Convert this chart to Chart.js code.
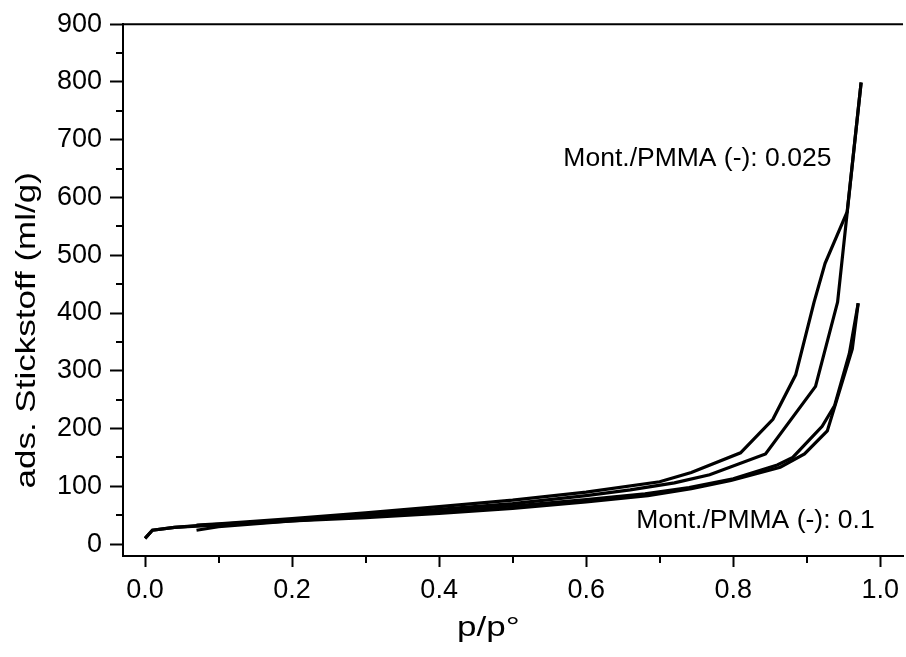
<!DOCTYPE html>
<html>
<head>
<meta charset="utf-8">
<script src="https://cdn.jsdelivr.net/npm/chart.js@4.4.1/dist/chart.umd.min.js"></script>
<style>
	html, body { margin: 0; padding: 0; background: #fff; }
	#chart { display: block; }
</style>
</head>
<body>
<canvas id="chart" width="906" height="657"></canvas>
<script>
// p/p° and adsorbed volume (ml/g)
var ads025P = [0.0, 0.01, 0.04, 0.08, 0.15, 0.2, 0.3, 0.4, 0.5, 0.6, 0.66, 0.72, 0.768, 0.844, 0.912, 0.942, 0.974];
var ads025V = [10, 24, 29, 33, 38, 42, 50, 60, 70, 84, 94, 106, 120, 156, 273, 419, 799];

var des025P = [0.974, 0.955, 0.925, 0.910, 0.885, 0.854, 0.810, 0.743, 0.7, 0.6, 0.5, 0.4, 0.3, 0.2, 0.1, 0.07];
var des025V = [799, 575, 486, 419, 293, 216, 158, 124, 108, 90, 76, 65, 54, 44, 35, 33];

var ads01P = [0.0, 0.01, 0.04, 0.07, 0.1, 0.2, 0.3, 0.4, 0.5, 0.6, 0.684, 0.743, 0.797, 0.864, 0.897, 0.928, 0.962, 0.970];
var ads01V = [10, 24, 29, 31, 33, 40, 46, 53, 62, 73, 84, 96, 110, 133, 156, 196, 338, 417];

var des01P = [0.970, 0.958, 0.938, 0.921, 0.881, 0.86, 0.8, 0.74, 0.68, 0.6, 0.5, 0.4, 0.3, 0.2, 0.1, 0.07];
var des01V = [417, 330, 240, 204, 150, 137, 113, 98, 87, 77, 66, 57, 49, 40, 30, 24];

var xTicks = [0.0, 0.2, 0.4, 0.6, 0.8, 1.0];
var yTicks = [0, 100, 200, 300, 400, 500, 600, 700, 800, 900];

var xTitle = 'p/p°';
var yTitle = 'ads. Stickstoff (ml/g)';

var labels = [
	{ text: 'Mont./PMMA (-): 0.025', p: 0.569, v: 668 },
	{ text: 'Mont./PMMA (-): 0.1', p: 0.668, v: 41 }
];

var FONT = '"Liberation Sans", Arial, sans-serif';

function toPoints(px, vy) {
	var pts = new Array();
	px.forEach(function(item, i) {
		pts.push({ x: item, y: vy[i] });
	});
	return pts;
}

function makeDataset(px, vy) {
	return {
		data: toPoints(px, vy),
		borderColor: '#000',
		borderWidth: 3.2,
		pointRadius: 0,
		showLine: true,
		fill: false,
		tension: 0,
		borderJoinStyle: 'miter'
	};
}

// minor ticks, top frame line, axis titles and the two text labels
var extrasPlugin = {
	id: 'extras',
	afterDraw: function(chart) {
		var ctx = chart.ctx;
		var xs = chart.scales.x;
		var ys = chart.scales.y;
		var area = chart.chartArea;
		ctx.save();
		ctx.strokeStyle = '#000';
		ctx.lineWidth = 2;
		ctx.beginPath();
		ctx.moveTo(area.left - 1, area.top);
		ctx.lineTo(area.right, area.top);
		ctx.stroke();

		ctx.beginPath();
		for (var v = 50; v < 900; v += 100) {
			var py = Math.round(ys.getPixelForValue(v));
			ctx.moveTo(area.left, py);
			ctx.lineTo(area.left - 7, py);
		}
		for (var p = 0.1; p < 1.05; p += 0.2) {
			var pxl = Math.round(xs.getPixelForValue(p));
			ctx.moveTo(pxl, area.bottom);
			ctx.lineTo(pxl, area.bottom + 7);
		}
		ctx.stroke();

		ctx.fillStyle = '#000';
		ctx.font = '26.5px ' + FONT;
		ctx.textBaseline = 'middle';
		ctx.textAlign = 'left';
		labels.forEach(function(item) {
			ctx.fillText(item.text, xs.getPixelForValue(item.p), ys.getPixelForValue(item.v));
		});

		// axis titles, a little wider than the plain font
		ctx.font = '28px ' + FONT;
		ctx.textAlign = 'center';
		ctx.save();
		ctx.translate(xs.getPixelForValue(0.467), 628);
		ctx.scale(1.25, 1);
		ctx.fillText(xTitle, 0, 0);
		ctx.restore();

		ctx.translate(27, ys.getPixelForValue(370));
		ctx.rotate(-Math.PI / 2);
		ctx.scale(1.25, 1);
		ctx.fillText(yTitle, 0, 0);
		ctx.restore();
	}
};

var config = {
	type: 'scatter',
	data: {
		datasets: [
			makeDataset(ads025P, ads025V),
			makeDataset(des025P, des025V),
			makeDataset(ads01P, ads01V),
			makeDataset(des01P, des01V)
		]
	},
	options: {
		responsive: false,
		animation: false,
		layout: { padding: { top: 20, right: 0, left: 0, bottom: 0 } },
		plugins: {
			legend: { display: false },
			tooltip: { enabled: false }
		},
		scales: {
			x: {
				type: 'linear',
				min: -0.03,
				max: 1.031,
				afterBuildTicks: function(scale) {
					scale.ticks = xTicks.map(function(v) { return { value: v }; });
				},
				afterFit: function(scale) { scale.height = 101; },
				ticks: {
					color: '#000',
					font: { family: FONT, size: 27 },
					padding: 7,
					maxRotation: 0,
					callback: function(v) { return v.toFixed(1); }
				},
				grid: { drawOnChartArea: false, tickLength: 11, tickWidth: 2, tickColor: '#000' },
				border: { color: '#000', width: 2 }
			},
			y: {
				type: 'linear',
				min: -20.6,
				max: 900,
				afterBuildTicks: function(scale) {
					scale.ticks = yTicks.map(function(v) { return { value: v }; });
				},
				afterFit: function(scale) { scale.width = 123; },
				ticks: {
					color: '#000',
					font: { family: FONT, size: 27 },
					padding: 8
				},
				grid: { drawOnChartArea: false, tickLength: 13, tickWidth: 2, tickColor: '#000' },
				border: { color: '#000', width: 2 }
			}
		}
	},
	plugins: [extrasPlugin]
};

var myChart = new Chart(document.getElementById('chart'), config);
</script>
</body>
</html>
